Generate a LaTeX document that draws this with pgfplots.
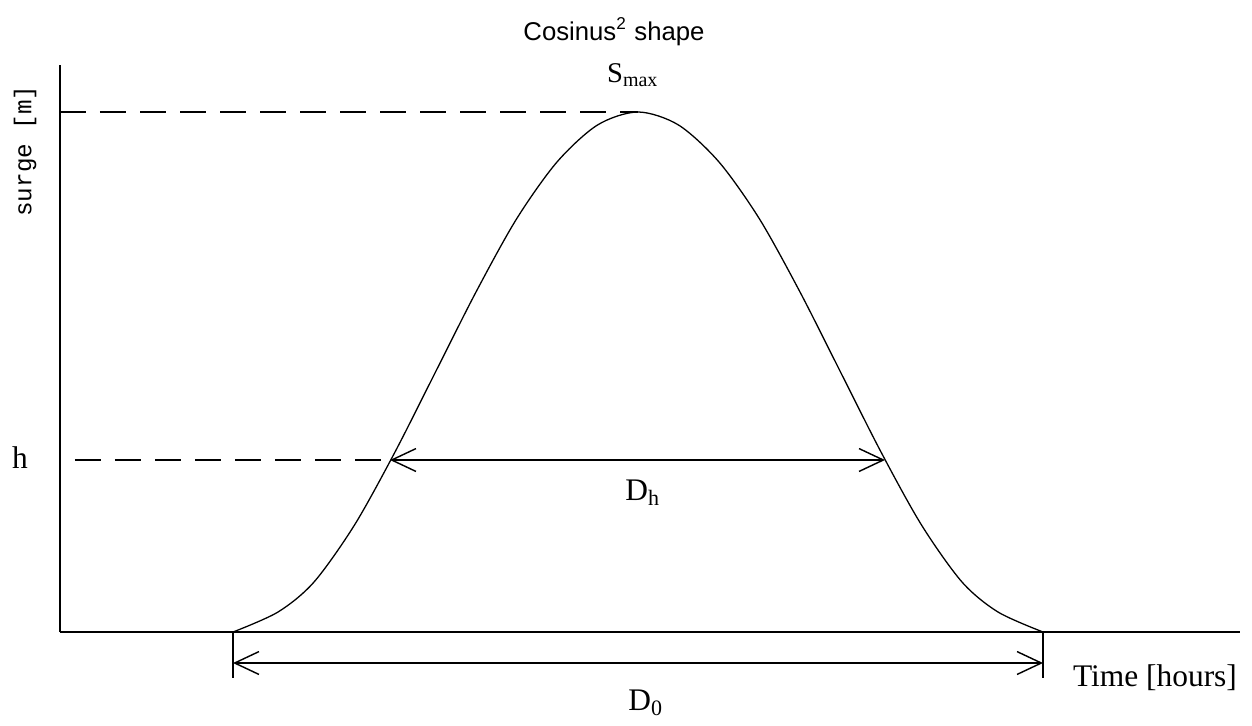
\documentclass[border=0pt]{standalone}
\usepackage{fontspec}
\setmainfont{Liberation Serif}
\newfontfamily\sansf{Liberation Sans}
\newfontfamily\monof{Liberation Mono}
\usepackage{pgfplots}
\pgfplotsset{compat=1.18}
\usetikzlibrary{arrows.meta}

% one axis unit = one pixel of the reference
\tikzset{barb/.style={{Straight Barb[length=8.5pt,width=8pt]}-{Straight Barb[length=8.5pt,width=8pt]}}}

\begin{document}
\begin{tikzpicture}
\begin{axis}[x=0.35pt, y=0.35pt,
    xmin=60, xmax=1240, ymin=0, ymax=567,
    axis lines*=left, ticks=none, clip=false,
    axis line style={line width=0.5pt}]

% cosinus^2 surge curve
\addplot[black, line width=0.45pt, smooth] coordinates {
  (233,0) (278,20) (314,50) (354.5,107) (395,180) (435.5,260)
  (476,340) (516.5,413) (557,470) (597.5,507) (638,520)
  (678.5,507) (719,470) (759.5,413) (800,340) (840.5,260)
  (881,180) (921.5,107) (962,50) (998,20) (1043,0)};

% S_max and h levels
\addplot[black, line width=0.5pt, dash pattern=on 9pt off 5pt] coordinates {(60,520) (638,520)};
\addplot[black, line width=0.5pt, dash pattern=on 9pt off 5pt] coordinates {(75,172) (390,172)};

% durations
\addplot[black, line width=0.5pt, barb] coordinates {(390,172) (885,172)};
\addplot[black, line width=0.5pt, barb] coordinates {(233,-31) (1043,-31)};
\addplot[black, line width=0.5pt] coordinates {(233,0) (233,-46)};
\addplot[black, line width=0.5pt] coordinates {(1043,0) (1043,-46)};

% labels
\node[font=\sansf\fontsize{9}{10}\selectfont] at (axis cs:614,600) {Cosinus\textsuperscript{2} shape};
\node[font=\fontsize{10}{11}\selectfont] at (axis cs:633,557) {S\textsubscript{max}};
\node[font=\monof\fontsize{8.5}{10}\selectfont, rotate=90] at (axis cs:25,481) {surge [m]};
\node[font=\fontsize{11}{12}\selectfont] at (axis cs:20,174) {h};
\node[font=\fontsize{11}{12}\selectfont] at (axis cs:643,139) {D\textsubscript{h}};
\node[font=\fontsize{11}{12}\selectfont] at (axis cs:646,-71) {D\textsubscript{0}};
\node[font=\fontsize{11}{12}\selectfont] at (axis cs:1155,-46) {Time [hours]};

% page frame of the reference picture
\path (axis cs:0,-86) rectangle (axis cs:1252,632);
\end{axis}
\end{tikzpicture}
\end{document}
